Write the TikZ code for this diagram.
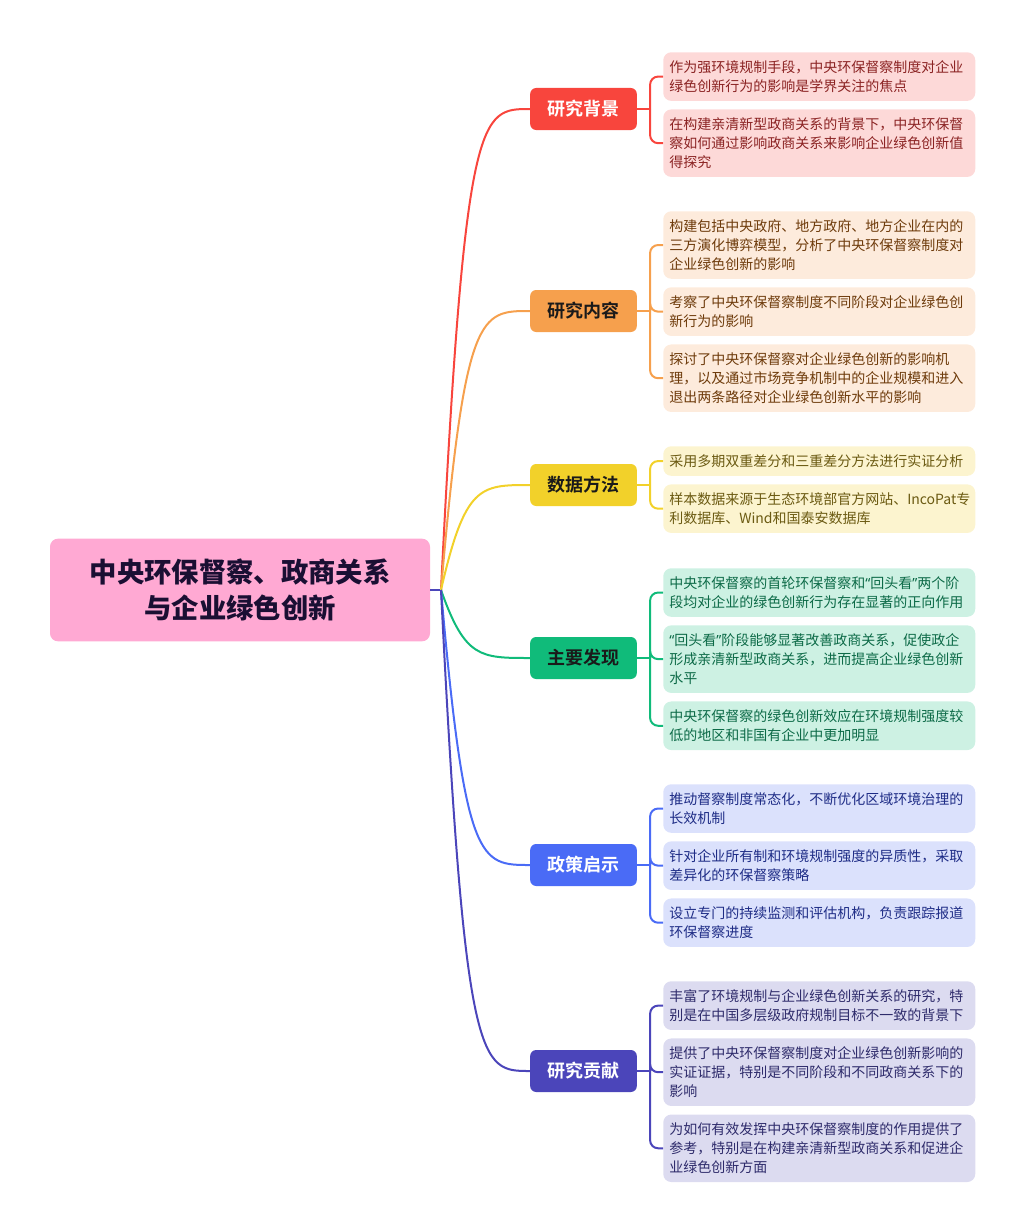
\documentclass[tikz,border=0pt]{standalone}
\usepackage{fontspec}
\setmainfont{Noto Sans CJK SC}[BoldFont={Noto Sans CJK SC Bold}]
\newfontfamily\rootfont{Noto Sans CJK SC Black}
\newfontfamily\quotefont{Noto Sans}
\newcommand{\openq}{{\quotefont “}}
\newcommand{\closeq}{{\quotefont ”}}
\usetikzlibrary{positioning}
\definecolor{rootpink}{HTML}{FFA9D3}
\definecolor{roottext}{HTML}{1A0F33}
\definecolor{bjred}{HTML}{F8453D}
\definecolor{bjfill}{HTML}{FDD9D8}
\definecolor{bjtext}{HTML}{8B2323}
\definecolor{nrorange}{HTML}{F6A04D}
\definecolor{nrfill}{HTML}{FDEBDC}
\definecolor{nrtext}{HTML}{6E3B0B}
\definecolor{sjyellow}{HTML}{F2D12A}
\definecolor{sjfill}{HTML}{FCF4CF}
\definecolor{sjtext}{HTML}{6B5A12}
\definecolor{fxgreen}{HTML}{10BB7A}
\definecolor{fxfill}{HTML}{CDF1E3}
\definecolor{fxtext}{HTML}{0C6A47}
\definecolor{qsblue}{HTML}{4A6BF6}
\definecolor{qsfill}{HTML}{DBE1FC}
\definecolor{qstext}{HTML}{1E2C86}
\definecolor{gxindigo}{HTML}{4B45BA}
\definecolor{gxfill}{HTML}{DCDBF0}
\definecolor{gxtext}{HTML}{2E2B6B}
\definecolor{darktext}{HTML}{1A1A1A}

\begin{document}
\begin{tikzpicture}[
        x=0.75pt, y=-0.75pt,
        node distance=6pt,
        every node/.style={inner sep=0pt},
        rootbox/.style={fill=rootpink, rounded corners=6pt, minimum width=285pt, minimum height=77pt, align=center, text=roottext, font=\fontsize{20.5}{27}\selectfont\rootfont},
        topic/.style 2 args={fill=#1, text=#2, rounded corners=4.5pt, minimum width=80pt, minimum height=31.5pt, font=\fontsize{13.5}{16}\selectfont\bfseries},
        leaf/.style 2 args={fill=#1, text=#2, rounded corners=6pt, text width=225pt, inner xsep=4.5pt, inner ysep=6.2pt, align=left, anchor=north west, font=\fontsize{10.5}{14.25}\selectfont},
        link/.style={line width=1.5pt, draw=#1},
        bracket/.style={line width=1.5pt, draw=#1, rounded corners=6pt}
    ]
        \useasboundingbox (0,0) rectangle (1025,1231);

        \node[rootbox] (root) at (240,590) {中央环保督察、政商关系\\与企业绿色创新};
        \coordinate (hub) at (441,590);

        \node[topic={bjred}{white}] (beijing) at (583.5,109) {研究背景};
        \node[topic={nrorange}{darktext}] (neirong) at (583.5,311) {研究内容};
        \node[topic={sjyellow}{darktext}] (shuju) at (583.5,485) {数据方法};
        \node[topic={fxgreen}{darktext}] (faxian) at (583.5,658) {主要发现};
        \node[topic={qsblue}{white}] (qishi) at (583.5,865) {政策启示};
        \node[topic={gxindigo}{white}] (gongxian) at (583.5,1071) {研究贡献};

        \node[leaf={bjfill}{bjtext}] (beijing1) at (663,52) {作为强环境规制手段，中央环保督察制度对企业\\绿色创新行为的影响是学界关注的焦点};
        \node[leaf={bjfill}{bjtext}, below=of beijing1] (beijing2) {在构建亲清新型政商关系的背景下，中央环保督\\察如何通过影响政商关系来影响企业绿色创新值\\得探究};

        \node[leaf={nrfill}{nrtext}] (neirong1) at (663,211) {构建包括中央政府、地方政府、地方企业在内的\\三方演化博弈模型，分析了中央环保督察制度对\\企业绿色创新的影响};
        \node[leaf={nrfill}{nrtext}, below=of neirong1] (neirong2) {考察了中央环保督察制度不同阶段对企业绿色创\\新行为的影响};
        \node[leaf={nrfill}{nrtext}, below=of neirong2] (neirong3) {探讨了中央环保督察对企业绿色创新的影响机\\理，以及通过市场竞争机制中的企业规模和进入\\退出两条路径对企业绿色创新水平的影响};

        \node[leaf={sjfill}{sjtext}] (shuju1) at (663,446) {采用多期双重差分和三重差分方法进行实证分析};
        \node[leaf={sjfill}{sjtext}, below=of shuju1] (shuju2) {样本数据来源于生态环境部官方网站、IncoPat专\\利数据库、Wind和国泰安数据库};

        \node[leaf={fxfill}{fxtext}] (faxian1) at (663,568) {中央环保督察的首轮环保督察和\openq 回头看\closeq 两个阶\\段均对企业的绿色创新行为存在显著的正向作用};
        \node[leaf={fxfill}{fxtext}, below=of faxian1] (faxian2) {\openq 回头看\closeq 阶段能够显著改善政商关系，促使政企\\形成亲清新型政商关系，进而提高企业绿色创新\\水平};
        \node[leaf={fxfill}{fxtext}, below=of faxian2] (faxian3) {中央环保督察的绿色创新效应在环境规制强度较\\低的地区和非国有企业中更加明显};

        \node[leaf={qsfill}{qstext}] (qishi1) at (663,784) {推动督察制度常态化，不断优化区域环境治理的\\长效机制};
        \node[leaf={qsfill}{qstext}, below=of qishi1] (qishi2) {针对企业所有制和环境规制强度的异质性，采取\\差异化的环保督察策略};
        \node[leaf={qsfill}{qstext}, below=of qishi2] (qishi3) {设立专门的持续监测和评估机构，负责跟踪报道\\环保督察进度};

        \node[leaf={gxfill}{gxtext}] (gongxian1) at (663,981) {丰富了环境规制与企业绿色创新关系的研究，特\\别是在中国多层级政府规制目标不一致的背景下};
        \node[leaf={gxfill}{gxtext}, below=of gongxian1] (gongxian2) {提供了中央环保督察制度对企业绿色创新影响的\\实证证据，特别是不同阶段和不同政商关系下的\\影响};
        \node[leaf={gxfill}{gxtext}, below=of gongxian2] (gongxian3) {为如何有效发挥中央环保督察制度的作用提供了\\参考，特别是在构建亲清新型政商关系和促进企\\业绿色创新方面};

        \draw[link=gxindigo] (root.east) -- (hub);
        \draw[link=bjred] (hub) .. controls (465,109) and (480,109) .. (beijing.west);
        \draw[link=nrorange] (hub) .. controls (465,311) and (480,311) .. (neirong.west);
        \draw[link=sjyellow] (hub) .. controls (465,485) and (480,485) .. (shuju.west);
        \draw[link=fxgreen] (hub) .. controls (465,658) and (480,658) .. (faxian.west);
        \draw[link=qsblue] (hub) .. controls (465,865) and (480,865) .. (qishi.west);
        \draw[link=gxindigo] (hub) .. controls (465,1071) and (480,1071) .. (gongxian.west);

        \draw[link=bjred] (beijing.east) -- ++(13,0) coordinate (beijingj);
        \draw[bracket=bjred] (beijingj) |- (beijing1.west);
        \draw[bracket=bjred] (beijingj) |- (beijing2.west);

        \draw[link=nrorange] (neirong.east) -- ++(13,0) coordinate (neirongj);
        \draw[bracket=nrorange] (neirongj) |- (neirong1.west);
        \draw[bracket=nrorange] (neirongj) |- (neirong2.west);
        \draw[bracket=nrorange] (neirongj) |- (neirong3.west);

        \draw[link=sjyellow] (shuju.east) -- ++(13,0) coordinate (shujuj);
        \draw[bracket=sjyellow] (shujuj) |- (shuju1.west);
        \draw[bracket=sjyellow] (shujuj) |- (shuju2.west);

        \draw[link=fxgreen] (faxian.east) -- ++(13,0) coordinate (faxianj);
        \draw[bracket=fxgreen] (faxianj) |- (faxian1.west);
        \draw[bracket=fxgreen] (faxianj) |- (faxian2.west);
        \draw[bracket=fxgreen] (faxianj) |- (faxian3.west);

        \draw[link=qsblue] (qishi.east) -- ++(13,0) coordinate (qishij);
        \draw[bracket=qsblue] (qishij) |- (qishi1.west);
        \draw[bracket=qsblue] (qishij) |- (qishi2.west);
        \draw[bracket=qsblue] (qishij) |- (qishi3.west);

        \draw[link=gxindigo] (gongxian.east) -- ++(13,0) coordinate (gongxianj);
        \draw[bracket=gxindigo] (gongxianj) |- (gongxian1.west);
        \draw[bracket=gxindigo] (gongxianj) |- (gongxian2.west);
        \draw[bracket=gxindigo] (gongxianj) |- (gongxian3.west);
    \end{tikzpicture}
\end{document}
